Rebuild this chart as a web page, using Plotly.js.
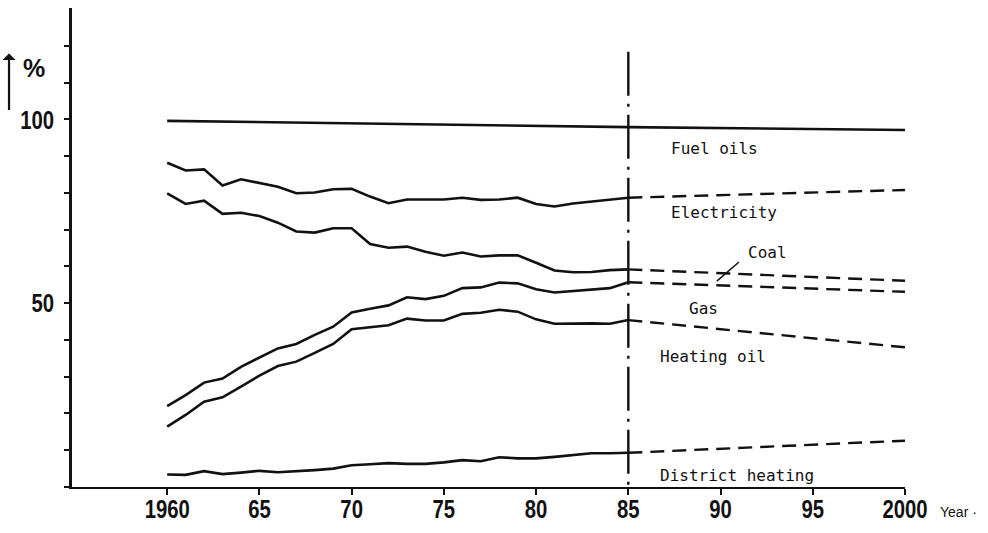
<!DOCTYPE html>
<html>
<head>
<meta charset="utf-8">
<script src="https://cdn.plot.ly/plotly-3.0.1.min.js"></script>
<style>
html,body{margin:0;padding:0;background:#fff;}
#chart{width:988px;height:533px;}
</style>
</head>
<body>
<div id="chart"></div>
<script>
// ---- data ----
const years = [1960,1961,1962,1963,1964,1965,1966,1967,1968,1969,1970,1971,1972,1973,1974,1975,1976,1977,1978,1979,1980,1981,1982,1983,1984,1985];
const projYears = [1985, 2000];

// cumulative shares (%), upper boundary of each band
const totalYears = [1960, 1985, 2000];
const totalLine = [99.6, 97.9, 97.1];                 // top of "Fuel oils"
const fuelOilsLower = [88.2,86.1,86.4,82.0,83.7,82.8,81.7,79.9,80.1,81.0,81.1,79.0,77.2,78.2,78.2,78.2,78.7,78.1,78.2,78.7,77.0,76.3,77.1,77.6,78.3,78.7];
const electricityLower = [79.9,77.0,77.9,74.3,74.6,73.7,71.9,69.5,69.2,70.4,70.4,66.1,65.1,65.4,64.0,62.9,63.8,62.7,63.0,63.0,61.0,58.9,58.4,58.5,59.0,59.2];
const coalLower = [22.0,25.0,28.4,29.5,32.7,35.3,37.7,38.9,41.4,43.6,47.5,48.5,49.4,51.6,51.1,52.0,54.1,54.3,55.6,55.4,53.8,52.9,53.3,53.8,54.1,55.7];
const gasLower = [16.4,19.6,23.2,24.4,27.3,30.3,32.9,34.1,36.5,38.9,42.9,43.5,44.0,45.8,45.3,45.3,47.1,47.4,48.2,47.7,45.6,44.4,44.5,44.5,44.4,45.4];
const heatingLower = [3.4,3.3,4.3,3.5,3.9,4.4,4.0,4.2,4.6,5.0,5.9,6.2,6.5,6.3,6.3,6.7,7.3,7.0,8.1,7.8,7.8,8.2,8.7,9.2,9.2,9.3];

// projections to 2000
const fuelOilsProj = [78.7, 80.8];
const electricityProj = [59.2, 56.1];
const coalProj = [55.7, 53.1];
const gasProj = [45.4, 38.0];
const heatingProj = [9.3, 12.6];

const bandLabels = ["Fuel oils", "Electricity", "Coal", "Gas", "Heating oil", "District heating"];
const labelX = [1987.2, 1987.2, 1991.4, 1988.2, 1986.6, 1986.6];
const labelY = [92.0, 74.6, 63.7, 48.6, 35.6, 3.1];

const xTickVals = [1960,1965,1970,1975,1980,1985,1990,1995,2000];
const xTickText = ["1960","65","70","75","80","85","90","95","2000"];
const yTickVals = [0,10,20,30,40,50,60,70,80,90,100,110,120];
const yTickText = ["","","","","","50","","","","","100","",""];

// ---- chart ----
const INK = "#111";
const solid = {color: INK, width: 2.6};
const dashed = {color: INK, width: 2.4, dash: "14px,8px"};

function tr(x, y, line) {
  return {x: x, y: y, type: "scatter", mode: "lines", line: line, hoverinfo: "skip", showlegend: false};
}

const data = [
  tr(totalYears, totalLine, solid),
  tr(years, fuelOilsLower, solid),
  tr(years, electricityLower, solid),
  tr(years, coalLower, solid),
  tr(years, gasLower, solid),
  tr(years, heatingLower, solid),
  tr(projYears, fuelOilsProj, dashed),
  tr(projYears, electricityProj, dashed),
  tr(projYears, coalProj, dashed),
  tr(projYears, gasProj, dashed),
  tr(projYears, heatingProj, dashed)
];

const labelFont = {family: "DejaVu Sans Mono, monospace", size: 16, color: INK};
const annotations = bandLabels.map((t, i) => ({
  x: labelX[i], y: labelY[i], xref: "x", yref: "y", text: t,
  showarrow: false, xanchor: "left", yanchor: "middle", font: labelFont
}));
annotations.push({
  x: 1.04, y: -0.052, xref: "paper", yref: "paper", text: "Year ·",
  showarrow: false, xanchor: "left", yanchor: "middle",
  font: {family: "Liberation Sans, Arial, sans-serif", size: 14, color: INK}
});
annotations.push({
  x: -0.046, y: 0.875, xref: "paper", yref: "paper", text: "<b>%</b>",
  showarrow: false, xanchor: "center", yanchor: "middle",
  font: {family: "Liberation Sans, Arial, sans-serif", size: 25, color: INK}
});
annotations.push({
  x: -0.0756, y: 0.905, xref: "paper", yref: "paper", text: "",
  showarrow: true, arrowhead: 1, arrowsize: 1, arrowwidth: 2.2, arrowcolor: INK,
  ax: 0, ay: 58, axref: "pixel", ayref: "pixel"
});

const TICKFONT = {family: "Liberation Sans, Arial, sans-serif", size: 26, color: INK, weight: 700};

const layout = {
  width: 988, height: 533,
  margin: {l: 72, r: 83, t: 8, b: 46, pad: 0},
  paper_bgcolor: "#fff", plot_bgcolor: "#fff",
  showlegend: false,
  xaxis: {
    range: [1954.84, 2000], showgrid: false, zeroline: false,
    showline: true, linecolor: INK, linewidth: 2.2,
    ticks: "outside", ticklen: 6, tickwidth: 2, tickcolor: INK,
    tickvals: xTickVals, ticktext: xTickText,
    tickfont: TICKFONT,
    fixedrange: true
  },
  yaxis: {
    range: [0, 130.3], showgrid: false, zeroline: false,
    showline: true, linecolor: INK, linewidth: 2.6,
    ticks: "outside", ticklen: 5, tickwidth: 2, tickcolor: INK,
    tickvals: yTickVals, ticktext: yTickText,
    tickfont: TICKFONT,
    fixedrange: true
  },
  shapes: [
    {type: "line", xref: "x", yref: "y", x0: 1985, x1: 1985, y0: 118.4, y1: 0,
     line: {color: INK, width: 2.4, dash: "44px,8px,3px,8px"}},
    {type: "line", xref: "x", yref: "y", x0: 1989.8, y0: 56.0, x1: 1991.0, y1: 61.2,
     line: {color: INK, width: 1.5}}
  ],
  annotations: annotations
};

// condense the tick numerals (the reference uses a narrow typeface)
function condenseTicks() {
  const s = 0.78, fs = TICKFONT.size;
  document.querySelectorAll("#chart .xtick text").forEach(t => {
    const bb = t.getBBox();
    const cx = bb.x + bb.width / 2;
    const r = t.getBoundingClientRect();
    const digitCenter = r.top + 0.547 * fs * (r.height / (1.117 * fs));
    const dy = 509 - digitCenter;
    const tf = t.getAttribute("transform") || "";
    t.setAttribute("transform", tf + ` translate(${cx},${dy}) scale(${s},1) translate(${-cx},0)`);
  });
  document.querySelectorAll("#chart .ytick text").forEach(t => {
    if (!t.textContent) return;
    const bb = t.getBBox();
    const rx = bb.x + bb.width;
    const r = t.getBoundingClientRect();
    const dx = 54 - r.right;
    const tf = t.getAttribute("transform") || "";
    t.setAttribute("transform", tf + ` translate(${rx + dx},0) scale(${s},1) translate(${-rx},0)`);
  });
}

Plotly.newPlot("chart", data, layout, {staticPlot: true, displayModeBar: false}).then(condenseTicks);
</script>
</body>
</html>
